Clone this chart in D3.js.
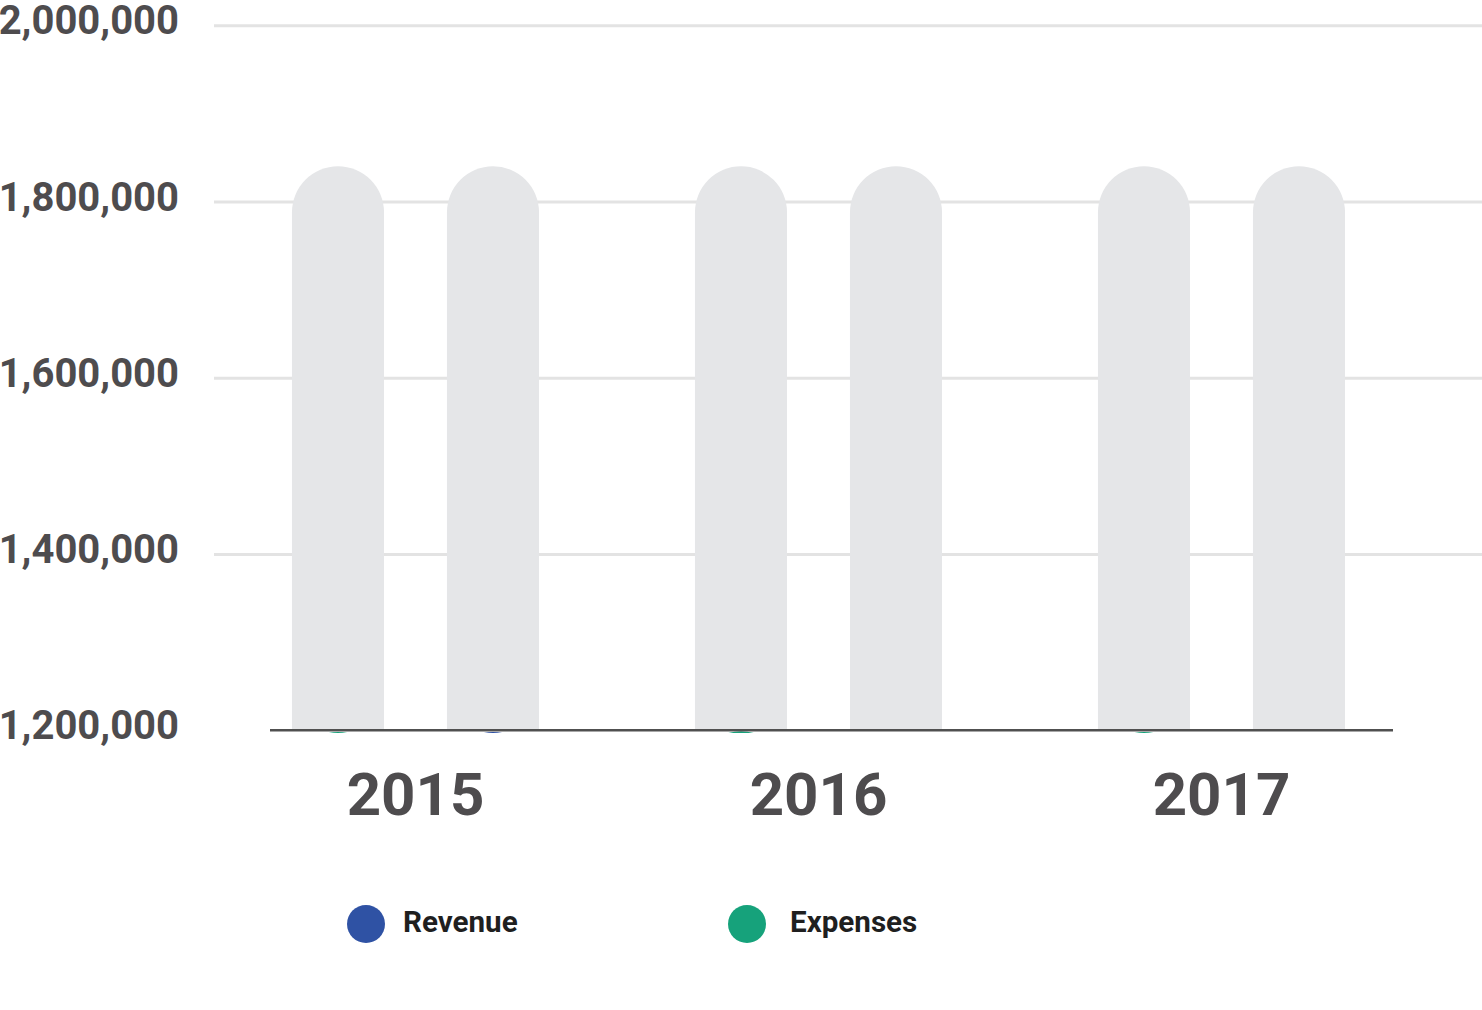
<!DOCTYPE html>
<html>
<head>
<meta charset="utf-8">
<script src="https://cdn.jsdelivr.net/npm/d3@7"></script>
<style>
  html, body { margin: 0; padding: 0; background: #fff; }
  svg { display: block; font-family: Roboto, "Noto Sans", sans-serif; }
</style>
</head>
<body>
<svg id="chart"></svg>
<script>
// data
const years = ['2015', '2016', '2017'];
const barSeries = ['Expenses', 'Revenue'];      // order of the bars inside a group
const legendSeries = ['Revenue', 'Expenses'];   // order in the legend
const revenue = [1198000, 1190000, 1190000];
const expenses = [1198000, 1199000, 1198000];
const trackMax = 1840000;                        // grey background bar height
const yTicks = [1200000, 1400000, 1600000, 1800000, 2000000];
const yDomain = [1200000, 2000000];

const colors = {Revenue: '#2f52a4', Expenses: '#16a27b'};

class GroupedBars {

  constructor(_config) {
    this.config = {
      parentElement: _config.parentElement,
      containerWidth: _config.containerWidth || 1482,
      containerHeight: _config.containerHeight || 1010
    };
    this.initVis();
  }

  initVis() {
    let vis = this;

    vis.svg = d3.select(vis.config.parentElement)
      .attr('width', vis.config.containerWidth)
      .attr('height', vis.config.containerHeight);

    vis.yScale = d3.scaleLinear()
      .domain(yDomain)
      .range([730.3, 25.3]);

    vis.xScale = d3.scaleBand()
      .domain(years)
      .range([214, 1423]);

    vis.xInner = d3.scaleBand()
      .domain(barSeries)
      .range([0, vis.xScale.bandwidth()])
      .paddingInner(0.406)
      .paddingOuter(0.503);

    // gridlines
    vis.svg.append('g')
      .attr('class', 'grid')
      .attr('transform', 'translate(214,0)')
      .call(d3.axisRight(vis.yScale)
        .tickValues(yTicks.filter(d => d > yDomain[0]))
        .tickSize(1482 - 214)
        .tickFormat(''))
      .call(g => g.select('.domain').remove())
      .call(g => g.selectAll('line').attr('stroke', '#e3e3e3').attr('stroke-width', 3));

    // y labels
    vis.svg.append('g')
      .attr('class', 'y-labels')
      .selectAll('text')
      .data(yTicks)
      .join('text')
      .attr('x', 179)
      .attr('y', d => vis.yScale(d) + 9)
      .attr('text-anchor', 'end')
      .attr('font-size', 40)
      .attr('font-weight', 700)
      .attr('fill', '#4e4c4e')
      .text(d => d3.format(',')(d));

    vis.updateVis();
  }

  // bar with a rounded top from value down past the plot bottom
  barPath(x, w, v) {
    let vis = this;
    let r = w / 2;
    let top = vis.yScale(v);
    let bottom = vis.yScale(yDomain[0]) + 60;
    return `M${x},${bottom} L${x},${top + r} A${r},${r} 0 0 1 ${x + w},${top + r} L${x + w},${bottom} Z`;
  }

  updateVis() {
    let vis = this;
    let bw = vis.xInner.bandwidth();
    let base = vis.yScale(yDomain[0]);

    let rows = [];
    years.forEach((y, i) => {
      rows.push({year: y, key: 'Expenses', value: expenses[i]});
      rows.push({year: y, key: 'Revenue', value: revenue[i]});
    });

    // grey tracks stop at the axis, coloured bars may peek just under it
    let defs = vis.svg.append('defs');
    defs.append('clipPath')
      .attr('id', 'track-clip')
      .append('rect')
      .attr('x', 0).attr('y', 0)
      .attr('width', vis.config.containerWidth)
      .attr('height', base);

    defs.append('clipPath')
      .attr('id', 'bar-clip')
      .append('rect')
      .attr('x', 0).attr('y', 0)
      .attr('width', vis.config.containerWidth)
      .attr('height', base + 2.7);

    vis.svg.append('g')
      .attr('clip-path', 'url(#track-clip)')
      .selectAll('path')
      .data(rows)
      .join('path')
      .attr('fill', '#e5e6e8')
      .attr('d', d => vis.barPath(vis.xScale(d.year) + vis.xInner(d.key), bw, trackMax));

    vis.svg.append('g')
      .attr('clip-path', 'url(#bar-clip)')
      .selectAll('path')
      .data(rows)
      .join('path')
      .attr('fill', d => colors[d.key])
      .attr('d', d => vis.barPath(vis.xScale(d.year) + vis.xInner(d.key), bw, d.value));

    // x axis line
    vis.svg.append('line')
      .attr('x1', 270).attr('x2', 1393)
      .attr('y1', base).attr('y2', base)
      .attr('stroke', '#505050')
      .attr('stroke-width', 2.5);

    vis.svg.append('g')
      .selectAll('text')
      .data(years)
      .join('text')
      .attr('x', d => vis.xScale(d) + vis.xScale.bandwidth() / 2)
      .attr('y', 815)
      .attr('text-anchor', 'middle')
      .attr('font-size', 60)
      .attr('font-weight', 700)
      .attr('fill', '#4e4c4e')
      .text(d => d);

    // legend
    let textDx = [37, 43];
    let legend = vis.svg.append('g')
      .selectAll('g')
      .data(legendSeries)
      .join('g')
      .attr('transform', (d, i) => `translate(${366 + i * 381},924)`);

    legend.append('circle')
      .attr('r', 19)
      .attr('fill', d => colors[d]);

    legend.append('text')
      .attr('x', (d, i) => textDx[i])
      .attr('y', 8)
      .attr('font-size', 29.6)
      .attr('font-weight', 700)
      .attr('fill', '#1f1f1f')
      .text(d => d);
  }
}

new GroupedBars({parentElement: '#chart'});
</script>
</body>
</html>
